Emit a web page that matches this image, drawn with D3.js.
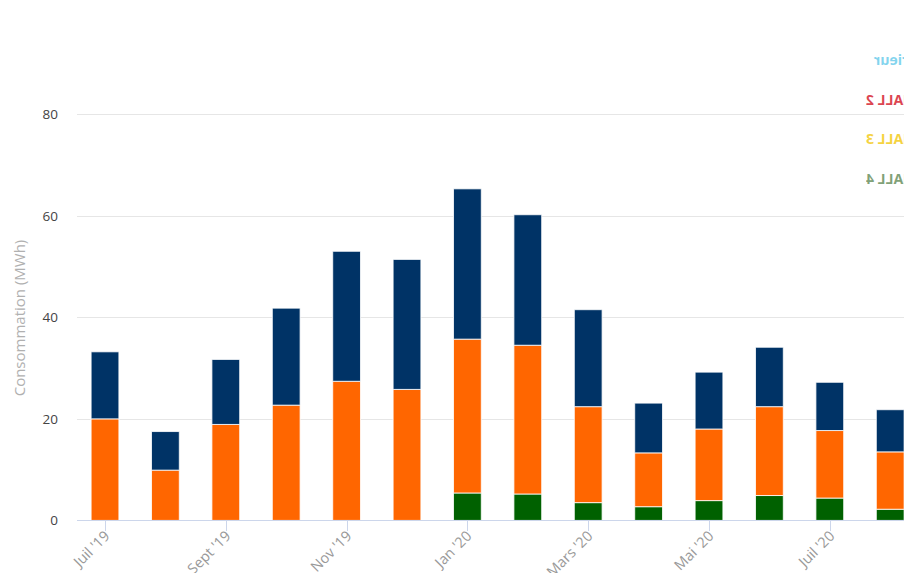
<!DOCTYPE html>
<html>
<head>
<meta charset="utf-8">
<script src="https://cdn.jsdelivr.net/npm/d3@7"></script>
<style>
  html, body { margin: 0; padding: 0; background: #fff; overflow: hidden; }
  text { font-family: "Open Sans", "DejaVu Sans", sans-serif; }
</style>
</head>
<body>
<div id="chart"></div>
<script>
const months = ["Juil '19", "Août '19", "Sept '19", "Oct '19", "Nov '19", "Déc '19",
  "Jan '20", "Févr '20", "Mars '20", "Avr '20", "Mai '20", "Juin '20", "Juil '20", "Août '20"];
const tickMonths = ["Juil '19", "Sept '19", "Nov '19", "Jan '20", "Mars '20", "Mai '20", "Juil '20"];
const seriesNames = ["HALL 4", "HALL 3", "HALL 2"];
const hall4 = [0, 0, 0, 0, 0, 0, 5.4, 5.2, 3.5, 2.7, 3.9, 4.9, 4.4, 2.2];
const hall3 = [20.0, 9.9, 18.9, 22.7, 27.4, 25.8, 30.3, 29.3, 18.9, 10.6, 14.1, 17.5, 13.3, 11.3];
const hall2 = [13.2, 7.6, 12.8, 19.1, 25.6, 25.6, 29.6, 25.7, 19.1, 9.8, 11.2, 11.7, 9.5, 8.3];
const yTicks = [0, 20, 40, 60, 80];
const legendNames = ["Extérieur", "HALL 2", "HALL 3", "HALL 4"];

const COLORS = {
  bars: ['#006100', '#ff6600', '#003366'],
  legend: ['#4fc3e8', '#d9323f', '#f2c500', '#4d7a40'],
  grid: '#e6e6e6',
  axis: '#ccd6eb'
};

const width = 904, height = 573;
const x0 = 74.8, step = 60.4;

const svg = d3.select('#chart').append('svg')
  .attr('width', width)
  .attr('height', height);

const x = d3.scaleBand()
  .domain(months)
  .range([x0, x0 + step * months.length])
  .paddingInner(0.54)
  .paddingOuter(0.27);

const y = d3.scaleLinear()
  .domain([0, 80])
  .range([520.4, 114.2]);

// grid lines
svg.append('g')
  .selectAll('line')
  .data(yTicks.slice(1))
  .join('line')
    .attr('x1', 77).attr('x2', width)
    .attr('y1', d => Math.round(y(d)) + 0.5)
    .attr('y2', d => Math.round(y(d)) + 0.5)
    .attr('stroke', COLORS.grid);

// y labels
svg.append('g')
  .selectAll('text')
  .data(yTicks)
  .join('text')
    .attr('x', 58)
    .attr('y', d => y(d) + 5)
    .attr('text-anchor', 'end')
    .attr('font-size', 13.5)
    .attr('fill', '#444')
    .text(d => d);

svg.append('text')
  .attr('transform', 'translate(25,318) rotate(-90)')
  .attr('text-anchor', 'middle')
  .attr('font-size', 15)
  .attr('fill', '#b0b0b0')
  .text('Consommation (MWh)');

// stacked bars
const table = months.map((m, i) => ({ month: m, 'HALL 4': hall4[i], 'HALL 3': hall3[i], 'HALL 2': hall2[i] }));
const stacked = d3.stack().keys(seriesNames)(table);

svg.append('g')
  .selectAll('g')
  .data(stacked)
  .join('g')
    .attr('fill', (d, i) => COLORS.bars[i])
  .selectAll('rect')
  .data(d => d.filter(p => p[1] - p[0] > 0))
  .join('rect')
    .attr('x', d => x(d.data.month))
    .attr('width', x.bandwidth())
    .attr('y', d => y(d[1]))
    .attr('height', d => y(d[0]) - y(d[1]))
    .attr('stroke', '#fff')
    .attr('stroke-opacity', 0.8)
    .attr('stroke-width', 1);

// x axis
svg.append('line')
  .attr('x1', 77).attr('x2', width)
  .attr('y1', 520.5).attr('y2', 520.5)
  .attr('stroke', COLORS.axis);

const xTicks = svg.append('g')
  .selectAll('g')
  .data(tickMonths)
  .join('g')
    .attr('transform', d => `translate(${Math.round(x(d) + x.bandwidth() / 2) + 0.5},521)`);

xTicks.append('line')
  .attr('y2', 10)
  .attr('stroke', COLORS.axis);

xTicks.append('text')
  .attr('transform', 'translate(5,16) rotate(-45)')
  .attr('text-anchor', 'end')
  .attr('font-size', 14.5)
  .attr('fill', '#999')
  .text(d => d);

// legend, cut by the right edge (drawn mirrored, as in the source)
const legendY = [60, 100, 139, 179];
const legend = svg.append('g')
  .selectAll('g')
  .data(legendNames)
  .join('g')
    .attr('transform', (d, i) => `translate(${i === 0 ? 874 : 866},${legendY[i]}) scale(-1,1)`);

legend.append('text')
  .attr('text-anchor', 'end')
  .attr('y', 5)
  .attr('font-size', 14)
  .attr('font-weight', 'bold')
  .attr('fill', (d, i) => COLORS.legend[i])
  .attr('opacity', (d, i) => [0.7, 0.9, 0.75, 0.7][i])
  .text(d => d);
</script>
</body>
</html>
